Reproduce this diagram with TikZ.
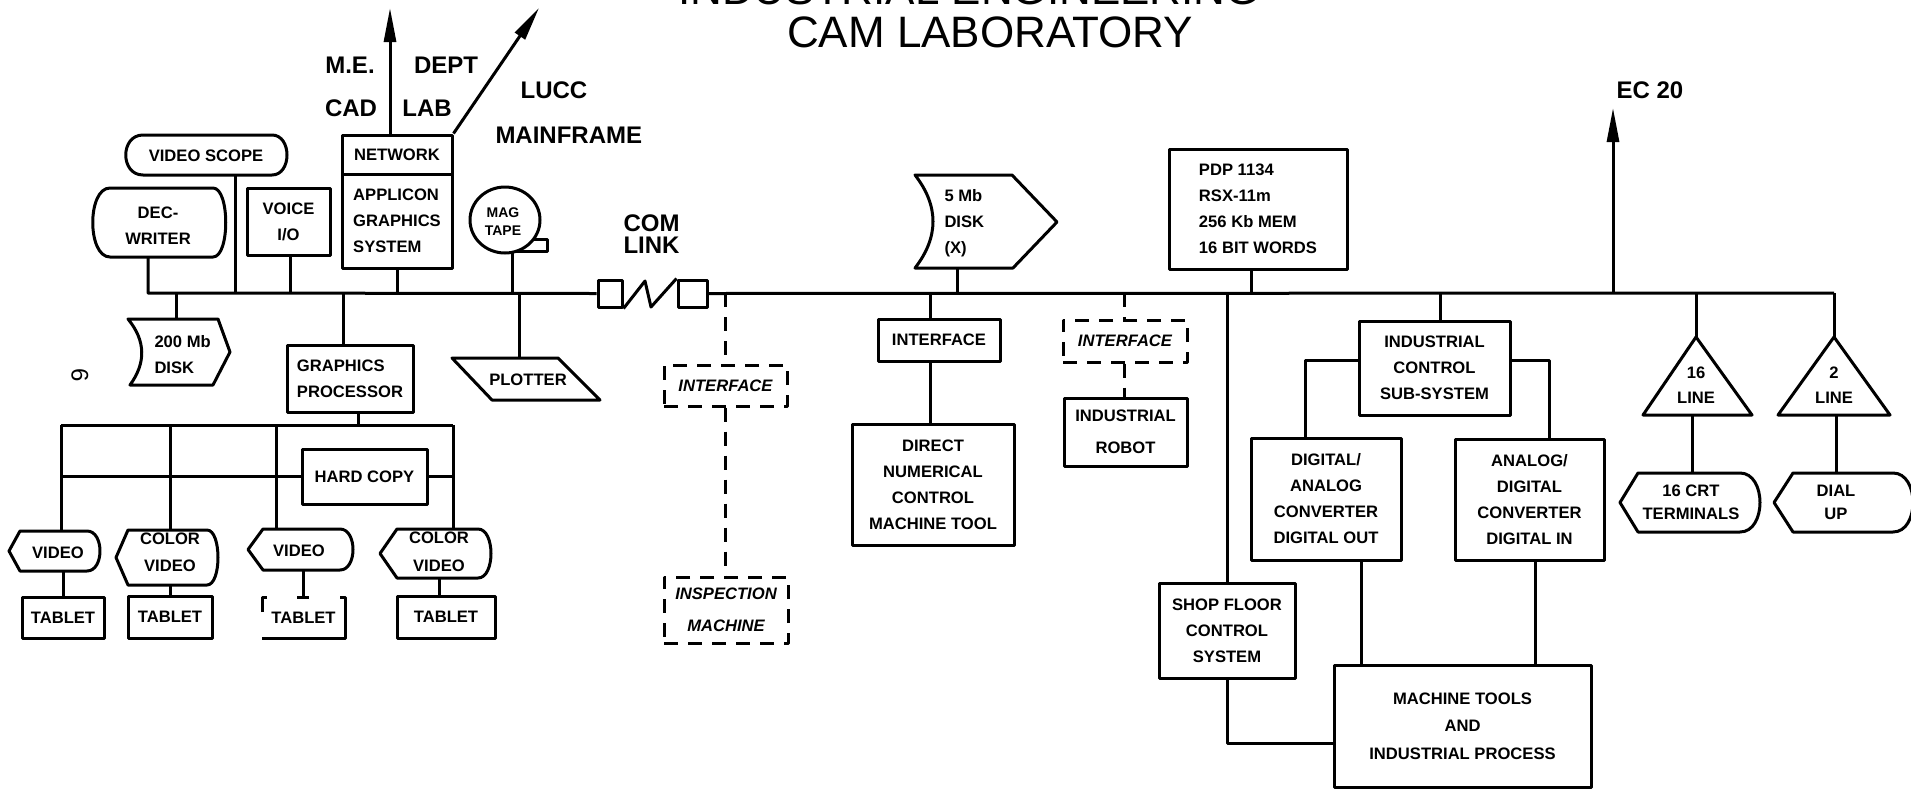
\documentclass[tikz,border=0pt]{standalone}
\usepackage{fontspec}
\setmainfont{Liberation Sans}
\usetikzlibrary{arrows.meta}
\newcommand\lbl{\bfseries\fontsize{8.3}{13}\selectfont}
\newcommand\lblsm{\bfseries\fontsize{7}{9}\selectfont}
\newcommand\lblbig{\bfseries\fontsize{12}{14}\selectfont}
\newcommand\ttlfont{\fontsize{22}{22}\selectfont}
\newcommand\dispsh[6]{%
  \draw[shp] (#1,#5) -- (#3,#5) .. controls ({#3+(#4-#3)*4/3},#5) and ({#3+(#4-#3)*4/3},#6) .. (#3,#6) -- (#1,#6) -- (#2,{(#5+#6)/2}) -- cycle;}
% box node from corner coordinates (x1,y1,x2,y2,name), text follows
\newcommand\bx[6][]{\node[box,#1,minimum width={(#4-#2)*0.5pt},minimum height={(#5-#3)*0.5pt}] (#6) at ({(#2+#4)/2},{(#3+#5)/2})}
% invisible area node for drawn shapes
\newcommand\area[5]{\node[areanode,minimum width={(#3-#1)*0.5pt},minimum height={(#4-#2)*0.5pt}] (#5) at ({(#1+#3)/2},{(#2+#4)/2}) {};}
\begin{document}
\begin{tikzpicture}[x=0.5pt,y=-0.5pt,
  line width=1.5pt, line join=round,
  shp/.style={line width=1.5pt},
  box/.style={draw, line width=1.5pt, inner sep=0pt, font=\lbl, align=center},
  dbox/.style={dash pattern=on 7pt off 5pt, font=\lbl\itshape},
  areanode/.style={inner sep=0pt, outer sep=0pt},
  txt/.style={inner sep=0pt, font=\lbl, align=center},
  outl/.style={inner sep=0pt, font=\lblbig},
  arr/.style={-{Triangle[length=17pt,width=6pt]}},
  dsh/.style={dash pattern=on 7pt off 5pt}]
\useasboundingbox (0,0) rectangle (1911,788);

% title
\node[inner sep=0pt, font=\ttlfont, anchor=base] (title1) at (969,4) {INDUSTRIAL ENGINEERING};
\node[inner sep=0pt, font=\ttlfont, anchor=base] (title2) at (990,47) {CAM LABORATORY};

% ---------- top left ----------
\draw[shp] (143,135) -- (272,135) .. controls (292,135) and (292,175) .. (272,175) -- (143,175) .. controls (120,175) and (120,135) .. (143,135) -- cycle;
\area{126}{135}{287}{175}{vs}
\node[txt] (vsT) at (206,156) {VIDEO SCOPE};

\draw[shp] (110,188) -- (213,188) .. controls (230,188) and (230,257) .. (213,257) -- (110,257) .. controls (87,257) and (87,188) .. (110,188) -- cycle;
\area{93}{188}{226}{257}{dw}
\node[txt] (dwT) at (158,226) {DEC-\\WRITER};

\bx{247}{188}{330}{255}{voice} {VOICE\\I/O};

\bx{342}{135}{452}{174}{net} {NETWORK};
\bx[align=left]{342}{174}{452}{268}{app} {APPLICON\\GRAPHICS\\SYSTEM};

\coordinate (aME) at (390,8);
\coordinate (aLU) at (539,8);
\draw[arr] (aME |- net.north) -- (aME);
\draw[arr] (net.north east) -- (aLU);

\node[outl] (me) at (350,65) {M.E.};
\node[outl] (dept) at (446,65) {DEPT};
\node[outl] (cad) at (351,108) {CAD};
\node[outl] (lab) at (427,108) {LAB};
\node[outl] (lucc) at (554,90) {LUCC};
\node[outl, anchor=west] (mf) at (494,135) {MAINFRAME};

% mag tape
\draw[shp] (505,220) ellipse [x radius=17.5pt, y radius=16.5pt];
\draw[shp] (533,239) -- (547,239) -- (547,251) -- (516,251);
\area{470}{187}{547}{253}{tape}
\node[txt, font=\lblsm] (tapeT) at (503,222) {MAG\\TAPE};

% com link
\node[inner sep=0pt, anchor=west, align=left, font=\bfseries\fontsize{12}{11}\selectfont] (cltxt) at (622,234) {COM\\LINK};
\bx{598}{280}{622}{307}{cl1} {};
\bx{678}{280}{707}{307}{cl2} {};
\draw (cl1.south east) -- (645,281) -- (651,307) -- (cl2.north west);

% ---------- bus ----------
\coordinate (busL) at (148,293);
\coordinate (busR) at (1834,293);
\draw (busL |- dw.south) -- (busL) -- (cl1.west);
\draw (cl2.east) -- (busR);

% taps
\coordinate (tVS) at (235,293);
\coordinate (tVO) at (290,293);
\coordinate (tNW) at (397,293);
\coordinate (tTP) at (512,293);
\coordinate (t5M) at (957,293);
\coordinate (tPDP) at (1251,293);
\coordinate (tEC) at (1613,293);
\coordinate (t2D) at (176,293);
\coordinate (tGP) at (343,293);
\coordinate (tPL) at (519,293);
\coordinate (tIF) at (725,293);
\coordinate (tDNC) at (930,293);
\coordinate (tRB) at (1124,293);
\coordinate (tSF) at (1227,293);
\coordinate (tIC) at (1440,293);
\coordinate (tT1) at (1696,293);

\draw (tVS) -- (tVS |- vs.south);
\draw (tVO) -- (tVO |- voice.south);
\draw (tNW) -- (tNW |- app.south);
\draw (tTP) -- (tTP |- tape.south);

% 200 Mb disk
\draw[shp] (128,319) -- (218,319) -- (230,352) -- (213,385) -- (130,385) .. controls (146,363) and (146,341) .. (128,319) -- cycle;
\area{128}{319}{230}{385}{d200}
\node[txt, anchor=west, align=left] (d200T) at (153,355) {200 Mb\\DISK};
\draw (t2D) -- (t2D |- d200.north);

\node[inner sep=0pt, font=\fontsize{12}{12}\selectfont, rotate=-90] (six) at (80,375) {6};

% graphics processor
\bx[align=left]{287}{345}{413}{412}{gp} {GRAPHICS\\PROCESSOR};
\draw (tGP) -- (tGP |- gp.north);

\coordinate (barL) at (61,425);
\coordinate (barR) at (453,425);
\coordinate (gpb) at (358,425);
\coordinate (bCV1) at (170,425);
\coordinate (bV2) at (276,425);
\draw (gpb |- gp.south) -- (gpb);
\draw (barL) -- (barR);

\bx{302}{449}{427}{504}{hc} {HARD COPY};
\draw (hc.west) -- (hc.west -| barL);
\draw (hc.east) -- (hc.east -| barR);

% displays
\dispsh{20}{9}{87}{100}{531}{571}
\area{9}{531}{100}{571}{v1}
\node[txt] (v1T) at (58,553) {VIDEO};
\dispsh{128}{116}{207}{218}{530}{585}
\area{116}{530}{218}{585}{cv1}
\node[txt, font=\lbl\fontsize{8.3}{13.5}\selectfont] (cv1T) at (170,552) {COLOR\\VIDEO};
\dispsh{263}{248}{340}{353}{529}{570}
\area{248}{529}{353}{570}{v2}
\node[txt] (v2T) at (299,551) {VIDEO};
\dispsh{397}{380}{478}{491}{529}{578}
\area{380}{529}{491}{578}{cv2}
\node[txt, font=\lbl\fontsize{8.3}{14}\selectfont] (cv2T) at (439,552) {COLOR\\VIDEO};

\draw (barL) -- (barL |- v1.north);
\draw (bCV1) -- (bCV1 |- cv1.north);
\draw (bV2) -- (bV2 |- v2.north);
\draw (barR) -- (barR |- cv2.north);

% tablets
\bx{22}{597}{104}{638}{t1} {TABLET};
\bx{128}{596}{212}{638}{t2} {TABLET};
\bx[draw=none]{262}{597}{345}{638}{t3} {TABLET};
\draw (262,612) -- (262,597) -- (267,597);
\draw (297,597) -- (309,597);
\draw (340,597) -- (345,597) -- (345,638) -- (262,638);
\bx{397}{596}{495}{638}{t4} {TABLET};
\coordinate (cv2x) at (439,587);
\draw (t1.north) -- (t1.north |- v1.south);
\draw (t2.north) -- (t2.north |- cv1.south);
\draw (t3.north) -- (t3.north |- v2.south);
\draw (cv2x |- cv2.south) -- (cv2x |- t4.north);

% plotter
\draw[shp] (452,358) -- (558,358) -- (600,400) -- (492,400) -- cycle;
\area{452}{358}{600}{400}{plot}
\node[txt] (plotT) at (528,380) {PLOTTER};
\draw (tPL) -- (tPL |- plot.north);

% dashed interface + inspection
\bx[dbox]{664}{365}{787}{406}{ifc} {INTERFACE};
\bx[dbox, font=\lbl\itshape\fontsize{8.3}{16}\selectfont]{664}{577}{788}{643}{insp} {INSPECTION\\MACHINE};
\draw[dsh] (tIF) -- (tIF |- ifc.north);
\draw[dsh] (tIF |- ifc.south) -- (tIF |- insp.north);

% 5 Mb disk
\draw[shp] (915,175) -- (1012,175) -- (1057,222) -- (1013,268) -- (915,268) .. controls (939,237) and (939,206) .. (915,175) -- cycle;
\area{915}{175}{1057}{268}{d5}
\node[txt, anchor=west, align=left] (d5T) at (943,223) {5 Mb\\DISK\\(X)};
\draw (t5M) -- (t5M |- d5.south);

% DNC
\bx{878}{319}{1000}{361}{dnci} {INTERFACE};
\bx{852}{424}{1014}{545}{dnc} {DIRECT\\NUMERICAL\\CONTROL\\MACHINE TOOL};
\draw (tDNC) -- (tDNC |- dnci.north);
\draw (tDNC |- dnci.south) -- (tDNC |- dnc.north);

% robot
\bx[dbox]{1063}{320}{1187}{362}{rbi} {INTERFACE};
\bx[font=\lbl\fontsize{8.3}{16}\selectfont]{1064}{398}{1187}{466}{rb} {INDUSTRIAL\\ROBOT};
\draw[dsh] (tRB) -- (tRB |- rbi.north);
\draw[dsh] (tRB |- rbi.south) -- (tRB |- rb.north);

% PDP
\bx[align=left]{1169}{149}{1347}{269}{pdp} {PDP 1134\\RSX-11m\\256 Kb MEM\\16 BIT WORDS};
\draw (tPDP) -- (tPDP |- pdp.south);

% EC 20
\coordinate (aEC) at (1613,108);
\draw[arr] (tEC) -- (aEC);
\node[outl] (ec) at (1650,90) {EC 20};

% shop floor and industrial control
\bx{1159}{583}{1295}{678}{sf} {SHOP FLOOR\\CONTROL\\SYSTEM};
\draw (tSF) -- (sf.north);
\bx{1359}{321}{1510}{415}{ics} {INDUSTRIAL\\CONTROL\\SUB-SYSTEM};
\draw (tIC) -- (tIC |- ics.north);
\bx{1251}{438}{1401}{560}{da} {DIGITAL/\\ANALOG\\CONVERTER\\DIGITAL OUT};
\bx{1455}{439}{1604}{560}{ad} {ANALOG/\\DIGITAL\\CONVERTER\\DIGITAL IN};
\bx[font=\lbl\fontsize{8.3}{13.7}\selectfont]{1334}{665}{1591}{787}{mt} {MACHINE TOOLS\\AND\\INDUSTRIAL PROCESS};

\coordinate (icl) at (1305,360);
\coordinate (icr) at (1549,360);
\draw (ics.west |- icl) -- (icl) -- (icl |- da.north);
\draw (ics.east |- icr) -- (icr) -- (icr |- ad.north);
\coordinate (dam) at (1361,610);
\coordinate (adm) at (1535,610);
\draw (dam |- da.south) -- (dam |- mt.north);
\draw (adm |- ad.south) -- (adm |- mt.north);
\coordinate (sfc) at (1227,743);
\draw (sf.south) -- (sfc) -- (sfc -| mt.west);

% triangles and terminals
\draw[shp] (1696,337) -- (1752,415) -- (1643,415) -- cycle;
\area{1643}{337}{1752}{415}{tri1}
\node[txt, font=\lbl\fontsize{8.3}{12.5}\selectfont] (tri1T) at (1696,385) {16\\LINE};
\draw[shp] (1834,337) -- (1890,415) -- (1778,415) -- cycle;
\area{1778}{337}{1890}{415}{tri2}
\node[txt, font=\lbl\fontsize{8.3}{12.5}\selectfont] (tri2T) at (1834,385) {2\\LINE};
\draw (tT1) -- (tT1 |- tri1.north);
\draw (busR) -- (busR |- tri2.north);

\dispsh{1638}{1620}{1740}{1760}{473}{532}
\area{1620}{473}{1760}{532}{crt}
\node[txt, font=\lbl\fontsize{8.3}{11.5}\selectfont] (crtT) at (1691,502) {16 CRT\\TERMINALS};
\dispsh{1793}{1774}{1893}{1913}{473}{532}
\area{1774}{473}{1913}{532}{dial}
\node[txt, font=\lbl\fontsize{8.3}{11.5}\selectfont] (dialT) at (1836,502) {DIAL\\UP};
\coordinate (c1x) at (1692,440);
\coordinate (c2x) at (1836,440);
\draw (c1x |- tri1.south) -- (c1x |- crt.north);
\draw (c2x |- tri2.south) -- (c2x |- dial.north);
\end{tikzpicture}
\end{document}
